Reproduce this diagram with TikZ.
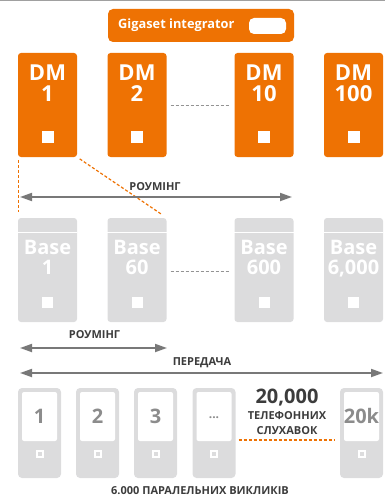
\documentclass[tikz,border=0pt]{standalone}
\usepackage{fontspec}
\setmainfont{Open Sans}
\usetikzlibrary{arrows.meta,positioning}
\definecolor{gsorange}{HTML}{EE7203}
\definecolor{gsgray}{HTML}{DCDCDD}
\definecolor{gsarrow}{HTML}{787878}
\definecolor{gstext}{HTML}{3C3C3C}
\tikzset{
	dmbox/.style={fill=gsorange, rounded corners=3pt, minimum width=59pt, minimum height=104pt, inner sep=0pt},
	basebox/.style={fill=gsgray, rounded corners=3pt, minimum width=59pt, minimum height=104pt, inner sep=0pt},
	handset/.style={fill=gsgray, rounded corners=4pt, minimum width=43pt, minimum height=90pt, inner sep=0pt},
	screen/.style={fill=white, rounded corners=2pt, minimum width=35pt, minimum height=49pt, inner sep=0pt},
	keysq/.style={fill=white, minimum size=#1, inner sep=0pt},
	bigtext/.style={text=white, font=\bfseries\fontsize{22}{22}\selectfont, inner sep=0pt, text height=15.7pt, text depth=0pt},
	basetext/.style={text=white, font=\bfseries\fontsize{20}{20}\selectfont, inner sep=0pt, text height=14.3pt, text depth=0pt},
	numtext/.style={text=gsarrow!85, font=\bfseries\fontsize{20}{20}\selectfont, inner sep=0pt},
	caption/.style={text=gstext, font=\bfseries\fontsize{11}{11}\selectfont, inner sep=0pt},
	spanarrow/.style={{Triangle[length=12pt,width=8pt]}-{Triangle[length=12pt,width=8pt]}, gsarrow, line width=1.8pt},
	gapline/.style={gsarrow!80, dash pattern=on 3pt off 2pt, line width=0.9pt},
	zoomline/.style={gsorange, dash pattern=on 3pt off 2pt, line width=1.2pt}
}
\begin{document}
\begin{tikzpicture}[x=1pt,y=-1pt]
	\useasboundingbox (0,0) rectangle (385,497);
	\draw[gsarrow!70, line width=1.5pt] (0,0.5) -- (385,0.5);

	\node[fill=gsorange, rounded corners=5pt, minimum width=186pt, minimum height=33pt, inner sep=0pt] (integrator) at (201,25.5) {};
	\node[text=white, font=\bfseries\fontsize{12.8}{13}\selectfont, anchor=west, inner sep=0pt] (integratorlabel) at (118,25) {Gigaset integrator};
	\node[fill=white, rounded corners=5pt, minimum width=37pt, minimum height=16pt, inner sep=0pt] (pill) at (267.5,26) {};

	\foreach \name/\x/\num in {dma/47.5/1, dmb/137/2, dmc/264/10, dmd/353.5/100} {
		\node[dmbox] (\name) at (\x,105) {};
		\node[bigtext] (\name top) at (\x,73) {DM};
		\node[bigtext] (\name num) at (\x,93.5) {\num};
		\node[keysq=12pt] at (\x,137) {};
	}

	\foreach \name/\x/\num in {basea/47.5/1, baseb/137/60, basec/264/600, based/353.5/{6,000}} {
		\node[basebox] (\name) at (\x,270) {};
		\draw[white, line width=1pt] (\name.west |- 0,232.5) -- (\name.east |- 0,232.5);
		\node[basetext] (\name top) at (\x,247.5) {Base};
		\node[basetext] (\name num) at (\x,267) {\num};
		\node[keysq=11pt] at (\x,302.5) {};
	}

	\draw[gapline, shorten <=4pt, shorten >=5pt] (dmb.east) -- (dmc.west);
	\draw[gapline, shorten <=4pt, shorten >=5pt] ([yshift=-1pt]baseb.east) -- ([yshift=-1pt]basec.west);

	\draw[zoomline, shorten <=3pt, shorten >=6pt] ([xshift=0.5pt]dma.south west) -- ([xshift=0.5pt]basea.north west);
	\draw[zoomline, shorten <=3pt, shorten >=6pt] (dma.south east) -- (baseb.north east);

	\coordinate (roamtopl) at (20,197);
	\coordinate (roamtopr) at (292,197);
	\draw[spanarrow] (roamtopl) -- (roamtopr);
	\node[caption] (roamtop) at (155,186.5) {РОУМІНГ};

	\coordinate (roambotl) at (20,348);
	\coordinate (roambotr) at (167,348);
	\draw[spanarrow] (roambotl) -- (roambotr);
	\node[caption] (roambot) at (94.5,335) {РОУМІНГ};

	\coordinate (handoverl) at (20,373);
	\coordinate (handoverr) at (383,373);
	\draw[spanarrow] (handoverl) -- (handoverr);
	\node[caption] (handover) at (202,363) {ПЕРЕДАЧА};

	\foreach \name/\x/\num in {hsa/39.5/1, hsb/97.5/2, hsc/155.5/3, hse/361.5/20k} {
		\node[handset] (\name) at (\x,433) {};
		\node[screen] (\name screen) at (\x,416.5) {};
		\node[numtext] at (\x,416) {\num};
		\node[keysq=8pt] (\name key) at (\x,453.5) {};
		\node[fill=gsgray, minimum size=4pt, inner sep=0pt] at (\name key) {};
	}
	\node[handset] (hsd) at (214,433) {};
	\node[screen] (hsdscreen) at (214,416.5) {};
	\node[numtext, font=\bfseries\fontsize{12}{12}\selectfont] at (214,418) {...};
	\node[keysq=8pt] (hsdkey) at (214,453.5) {};
	\node[fill=gsgray, minimum size=4pt, inner sep=0pt] at (hsdkey) {};

	\node[text=gstext, font=\bfseries\fontsize{20}{20}\selectfont, inner sep=0pt] (total) at (287,398) {20,000};
	\node[caption] (totala) at (287,416) {ТЕЛЕФОННИХ};
	\node[caption] (totalb) at (287,431) {СЛУХАВОК};
	\draw[zoomline] ([xshift=3pt]hsd.east |- 0,440) -- ([xshift=-5pt]hse.west |- 0,440);

	\node[caption] (parallel) at (200,491) {6.000 ПАРАЛЕЛЬНИХ ВИКЛИКІВ};
\end{tikzpicture}
\end{document}
